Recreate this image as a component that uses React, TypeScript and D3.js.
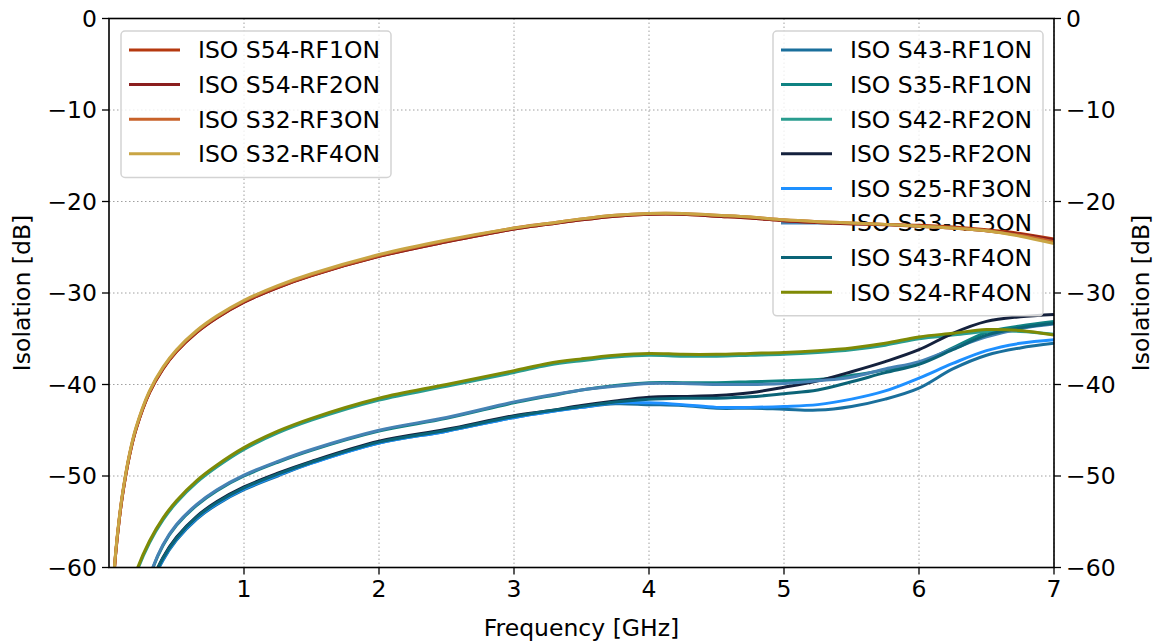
import React, { useEffect, useRef } from "react";
import * as d3 from "d3";

// frequency grid [GHz]
const freq = [0.02, 0.03, 0.05, 0.075, 0.1, 0.15, 0.2, 0.3, 0.4, 0.5, 0.65, 0.8, 1.0, 1.25, 1.5, 2.0, 2.5, 3.0, 3.25, 3.5, 3.75, 4.0, 4.25, 4.5, 4.75, 5.0, 5.25, 5.5, 5.75, 6.0, 6.25, 6.5, 6.75, 7.0];

// upper group (twin axis)
const s54rf1 = [-65.7, -62.4, -58.4, -54.9, -52.1, -47.9, -44.9, -40.9, -38.3, -36.4, -34.3, -32.7, -31.0, -29.4, -28.1, -26.0, -24.4, -23.0, -22.5, -22.0, -21.6, -21.4, -21.4, -21.6, -21.8, -22.1, -22.3, -22.4, -22.5, -22.6, -22.8, -23.1, -23.5, -24.1];
const s54rf2 = [-65.7, -62.4, -58.4, -54.9, -52.1, -47.9, -44.9, -40.9, -38.3, -36.4, -34.3, -32.7, -31.0, -29.4, -28.1, -26.0, -24.4, -23.0, -22.5, -22.0, -21.6, -21.4, -21.4, -21.6, -21.8, -22.1, -22.3, -22.45, -22.55, -22.7, -22.9, -23.2, -23.6, -24.2];
const s32rf3 = [-65.6, -62.3, -58.3, -54.8, -52.0, -47.8, -44.8, -40.8, -38.2, -36.3, -34.2, -32.6, -30.9, -29.3, -28.0, -25.9, -24.3, -22.9, -22.4, -21.9, -21.5, -21.3, -21.3, -21.5, -21.7, -22.0, -22.2, -22.35, -22.5, -22.7, -22.9, -23.2, -23.7, -24.4];
const s32rf4 = [-65.5, -62.2, -58.2, -54.7, -51.9, -47.7, -44.7, -40.7, -38.1, -36.2, -34.1, -32.5, -30.8, -29.2, -27.9, -25.8, -24.2, -22.9, -22.4, -21.9, -21.5, -21.3, -21.3, -21.5, -21.7, -22.0, -22.2, -22.35, -22.5, -22.7, -22.9, -23.2, -23.8, -24.6];

// lower group
const s43rf1 = [-101, -96, -89, -83, -79, -73, -69.2, -62.5, -59.2, -57.0, -54.7, -53.1, -51.5, -50.0, -48.6, -46.4, -45.1, -43.6, -43.0, -42.5, -42.1, -42.2, -42.3, -42.6, -42.6, -42.7, -42.8, -42.4, -41.6, -40.4, -38.3, -36.8, -36.0, -35.5];
const s35rf1 = [-99, -94, -87, -81, -77, -71, -67.1, -61.1, -57.6, -55.4, -53.2, -51.6, -50.0, -48.5, -47.2, -45.1, -43.7, -42.0, -41.3, -40.6, -40.1, -39.8, -39.8, -39.8, -39.7, -39.6, -39.45, -39.0, -38.4, -37.7, -36.0, -34.3, -33.6, -33.1];
const s42rf2 = [-80.7, -77.2, -72.7, -69.2, -66.7, -63.2, -60.7, -57.3, -54.8, -52.9, -50.7, -49.0, -47.1, -45.3, -43.9, -41.7, -40.2, -38.7, -37.9, -37.4, -37.0, -36.8, -36.9, -36.9, -36.8, -36.7, -36.5, -36.2, -35.7, -35.0, -34.6, -34.2, -34.2, -34.5];
const s25rf2 = [-101, -96, -89, -83, -79, -73, -69, -62.3, -58.9, -56.7, -54.4, -52.8, -51.2, -49.7, -48.4, -46.2, -44.9, -43.4, -42.9, -42.3, -41.8, -41.4, -41.3, -41.2, -40.9, -40.3, -39.6, -38.6, -37.5, -36.2, -34.4, -33.1, -32.6, -32.35];
const s25rf3 = [-101, -96, -89, -83, -79, -73, -69.1, -62.4, -59.1, -56.9, -54.6, -53.0, -51.4, -49.9, -48.6, -46.4, -45.1, -43.6, -43.0, -42.5, -42.0, -42.0, -42.2, -42.5, -42.5, -42.4, -42.2, -41.6, -40.7, -39.3, -37.7, -36.3, -35.5, -35.1];
const s53rf3 = [-99, -94, -87, -81, -77, -71, -67, -61.0, -57.5, -55.3, -53.1, -51.5, -49.9, -48.4, -47.1, -45.0, -43.6, -41.9, -41.2, -40.6, -40.2, -39.9, -39.9, -40.0, -40.0, -39.9, -39.6, -39.2, -38.3, -37.5, -36.1, -34.8, -33.9, -33.4];
const s43rf4 = [-101, -96, -89, -83, -79, -73, -69, -62.3, -59.0, -56.8, -54.5, -52.9, -51.3, -49.8, -48.5, -46.3, -45.0, -43.5, -42.9, -42.4, -41.9, -41.6, -41.5, -41.5, -41.35, -41.0, -40.6, -39.7, -38.7, -37.8, -36.2, -34.6, -33.8, -33.3];
const s24rf4 = [-80.5, -77, -72.5, -69, -66.5, -63, -60.5, -57.1, -54.6, -52.7, -50.5, -48.8, -46.9, -45.1, -43.7, -41.5, -40.0, -38.5, -37.7, -37.2, -36.8, -36.6, -36.7, -36.7, -36.6, -36.5, -36.3, -36.0, -35.5, -34.8, -34.4, -34.0, -34.1, -34.6];

const upperNames = ["ISO S54-RF1ON", "ISO S54-RF2ON", "ISO S32-RF3ON", "ISO S32-RF4ON"];
const upperValues = [s54rf1, s54rf2, s32rf3, s32rf4];
const upperColors = ["#b5390f", "#8b1e1e", "#c8622a", "#c9a544"];

const lowerNames = ["ISO S43-RF1ON", "ISO S35-RF1ON", "ISO S42-RF2ON", "ISO S25-RF2ON", "ISO S25-RF3ON", "ISO S53-RF3ON", "ISO S43-RF4ON", "ISO S24-RF4ON"];
const lowerValues = [s43rf1, s35rf1, s42rf2, s25rf2, s25rf3, s53rf3, s43rf4, s24rf4];
const lowerColors = ["#1a6f9c", "#0f8282", "#2a9d8f", "#14213d", "#1e90ff", "#4682b4", "#0b6477", "#7f8a05"];

const xTicks = [1, 2, 3, 4, 5, 6, 7];
const yTicks = [0, -10, -20, -30, -40, -50, -60];

export default function App() {
  const ref = useRef<SVGSVGElement>(null);

  useEffect(() => {
    const width = 1158;
    const height = 644;
    const margin = { top: 18.5, right: 104, bottom: 76.5, left: 109 };
    const innerW = width - margin.left - margin.right;
    const innerH = height - margin.top - margin.bottom;
    const font = "DejaVu Sans, sans-serif";
    const fs = 23.5;

    const svg = d3.select(ref.current);
    svg.selectAll("*").remove();

    const x = d3.scaleLinear().domain([0, 7]).range([margin.left, margin.left + innerW]);
    const y = d3.scaleLinear().domain([-60, 0]).range([margin.top + innerH, margin.top]);

    svg.append("defs").append("clipPath").attr("id", "plotclip")
      .append("rect")
      .attr("x", margin.left).attr("y", margin.top)
      .attr("width", innerW).attr("height", innerH);

    // grid
    const grid = svg.append("g");
    xTicks.forEach(t => {
      grid.append("line")
        .attr("x1", x(t)).attr("x2", x(t))
        .attr("y1", margin.top).attr("y2", margin.top + innerH)
        .attr("stroke", "#a0a0a0").attr("stroke-width", 1)
        .attr("stroke-dasharray", "1.5,2.5");
    });
    yTicks.forEach(t => {
      grid.append("line")
        .attr("x1", margin.left).attr("x2", margin.left + innerW)
        .attr("y1", y(t)).attr("y2", y(t))
        .attr("stroke", "#a0a0a0").attr("stroke-width", 1)
        .attr("stroke-dasharray", "1.5,2.5");
    });

    const line = d3.line<number>()
      .x((_, i) => x(freq[i]))
      .y(d => y(d))
      .curve(d3.curveCatmullRom.alpha(0.5));

    const drawLines = (vals: number[][], colors: string[]) => {
      const g = svg.append("g").attr("clip-path", "url(#plotclip)");
      vals.forEach((v, i) => {
        g.append("path")
          .attr("d", line(v) as string)
          .attr("fill", "none")
          .attr("stroke", colors[i])
          .attr("stroke-width", 3)
          .attr("stroke-linejoin", "round");
      });
    };

    const drawLegend = (names: string[], colors: string[], bx: number, bw: number) => {
      const by = 31;
      const step = 34.6;
      const bh = names.length * step + 8;
      const g = svg.append("g");
      g.append("rect")
        .attr("x", bx).attr("y", by)
        .attr("width", bw).attr("height", bh)
        .attr("rx", 4)
        .attr("fill", "white").attr("fill-opacity", 0.8)
        .attr("stroke", "#d3d3d3").attr("stroke-width", 1.5);
      names.forEach((n, i) => {
        const cy = by + 19 + i * step;
        g.append("line")
          .attr("x1", bx + 8).attr("x2", bx + 59)
          .attr("y1", cy).attr("y2", cy)
          .attr("stroke", colors[i]).attr("stroke-width", 3);
        g.append("text")
          .attr("x", bx + 77).attr("y", cy)
          .attr("dy", "0.36em")
          .style("font-family", font).style("font-size", `${fs}px`)
          .text(n);
      });
    };

    // first axes: lower curves and right legend
    drawLines(lowerValues, lowerColors);
    drawLegend(lowerNames, lowerColors, 773, 270);
    // twin axes on top
    drawLines(upperValues, upperColors);
    drawLegend(upperNames, upperColors, 121, 270);

    // spines
    svg.append("rect")
      .attr("x", margin.left).attr("y", margin.top)
      .attr("width", innerW).attr("height", innerH)
      .attr("fill", "none").attr("stroke", "black").attr("stroke-width", 1.6);

    // x ticks
    xTicks.forEach(t => {
      svg.append("line")
        .attr("x1", x(t)).attr("x2", x(t))
        .attr("y1", margin.top + innerH).attr("y2", margin.top + innerH + 7)
        .attr("stroke", "black").attr("stroke-width", 1.3);
      svg.append("text")
        .attr("x", x(t)).attr("y", margin.top + innerH + 29)
        .attr("text-anchor", "middle")
        .style("font-family", font).style("font-size", `${fs}px`)
        .text(t);
    });

    const fmt = (t: number) => (t < 0 ? "\u2212" + Math.abs(t) : String(t));

    // left and right y ticks
    yTicks.forEach(t => {
      svg.append("line")
        .attr("x1", margin.left - 7).attr("x2", margin.left)
        .attr("y1", y(t)).attr("y2", y(t))
        .attr("stroke", "black").attr("stroke-width", 1.3);
      svg.append("text")
        .attr("x", margin.left - 12).attr("y", y(t))
        .attr("dy", "0.36em")
        .attr("text-anchor", "end")
        .style("font-family", font).style("font-size", `${fs}px`)
        .text(fmt(t));
      svg.append("line")
        .attr("x1", margin.left + innerW).attr("x2", margin.left + innerW + 7)
        .attr("y1", y(t)).attr("y2", y(t))
        .attr("stroke", "black").attr("stroke-width", 1.3);
      svg.append("text")
        .attr("x", margin.left + innerW + 12).attr("y", y(t))
        .attr("dy", "0.36em")
        .attr("text-anchor", "start")
        .style("font-family", font).style("font-size", `${fs}px`)
        .text(fmt(t));
    });

    // axis labels
    svg.append("text")
      .attr("x", margin.left + innerW / 2).attr("y", 636)
      .attr("text-anchor", "middle")
      .style("font-family", font).style("font-size", `${fs}px`)
      .text("Frequency [GHz]");

    const cyMid = margin.top + innerH / 2;
    svg.append("text")
      .attr("transform", `translate(30, ${cyMid}) rotate(-90)`)
      .attr("text-anchor", "middle")
      .style("font-family", font).style("font-size", `${fs}px`)
      .text("Isolation [dB]");
    svg.append("text")
      .attr("transform", `translate(1149, ${cyMid}) rotate(-90)`)
      .attr("text-anchor", "middle")
      .style("font-family", font).style("font-size", `${fs}px`)
      .text("Isolation [dB]");
  }, []);

  return (
    <svg
      ref={ref}
      width={1158}
      height={644}
      style={{ position: "absolute", left: 0, top: 0, background: "white" }}
    />
  );
}
